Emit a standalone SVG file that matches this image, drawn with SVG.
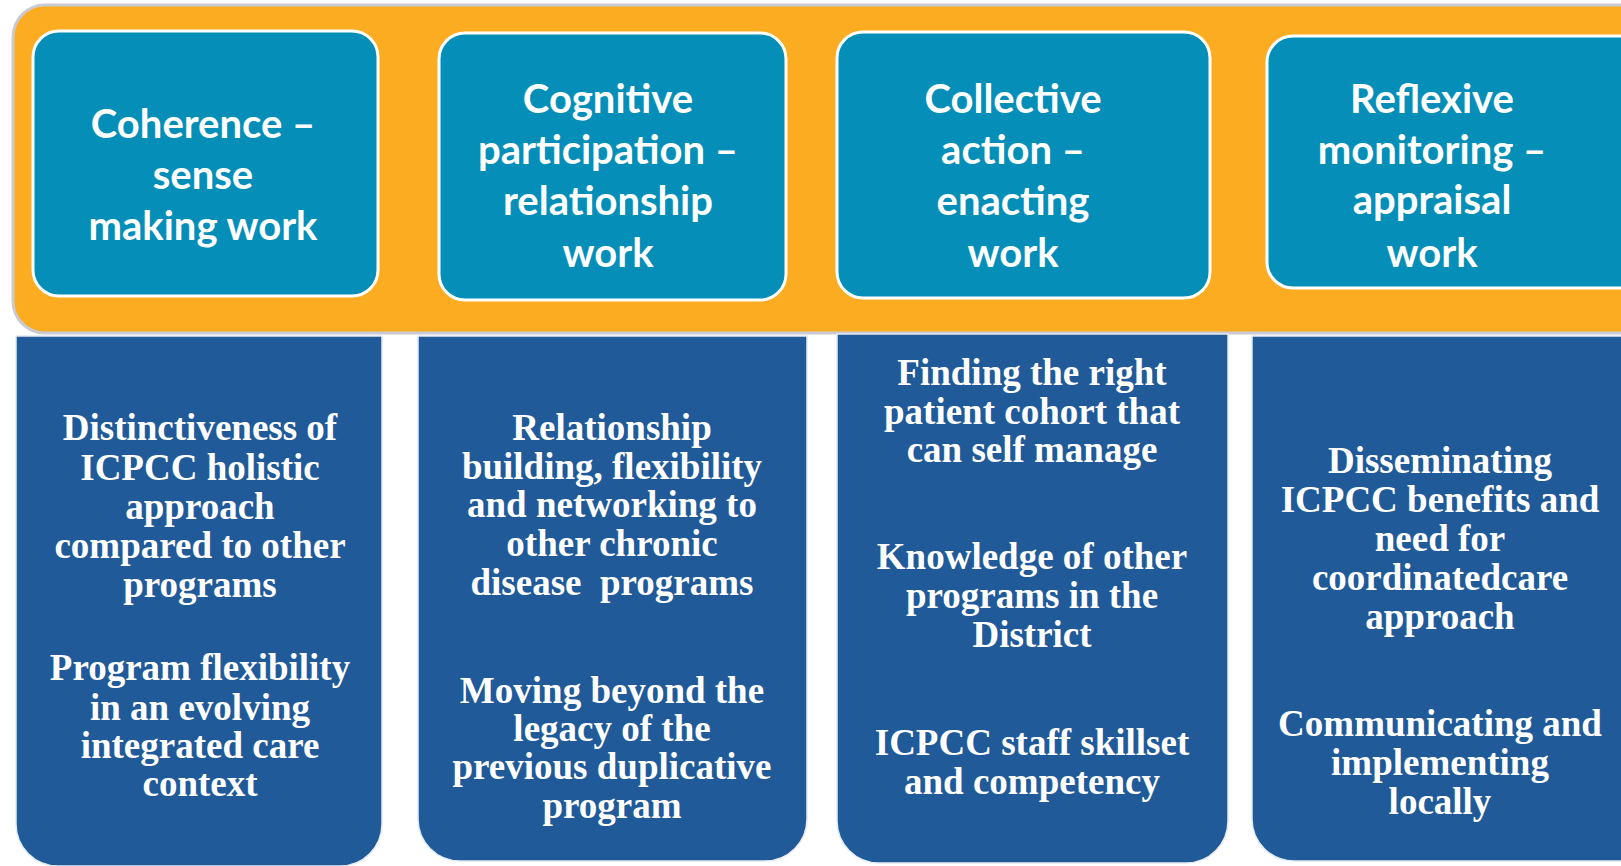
<svg xmlns="http://www.w3.org/2000/svg" width="1621" height="866" viewBox="0 0 1621 866">
<style>
.band{fill:#FCAC20;stroke:#CACAD4;stroke-width:3}
.top{fill:#058FB8;stroke:#FFFFFF;stroke-width:3}
.bot{fill:#205A99;stroke:#E4EAF2;stroke-width:1.5}
.tt{font-family:Lato,"Open Sans",sans-serif;font-weight:bold;font-size:40px;fill:#FFFFFF;text-anchor:middle}
.bt{font-family:"Liberation Serif","Times New Roman",serif;font-weight:bold;font-size:37px;fill:#FFFFFF;text-anchor:middle}
</style>
<rect width="1621" height="866" fill="#FFFFFF"/>
<rect class="band" x="13" y="5" width="1640" height="328" rx="32" ry="32"/>
<g id="n1">
<rect class="top" x="33" y="31" width="345" height="265" rx="26" ry="26"/>
<text class="tt" x="203" y="138">Coherence –</text>
<text class="tt" x="203" y="189">sense</text>
<text class="tt" x="203" y="240">making work</text>
</g>
<g id="n2">
<rect class="top" x="439" y="33" width="347" height="267" rx="26" ry="26"/>
<text class="tt" x="608" y="113">Cognitive</text>
<text class="tt" x="608" y="164">participation –</text>
<text class="tt" x="608" y="215">relationship</text>
<text class="tt" x="608" y="267">work</text>
</g>
<g id="n3">
<rect class="top" x="837" y="32" width="373" height="266" rx="26" ry="26"/>
<text class="tt" x="1013" y="113">Collective</text>
<text class="tt" x="1013" y="164">action –</text>
<text class="tt" x="1013" y="215">enacting</text>
<text class="tt" x="1013" y="267">work</text>
</g>
<g id="n4">
<rect class="top" x="1267" y="36" width="380" height="252" rx="26" ry="26"/>
<text class="tt" x="1432" y="113">Reflexive</text>
<text class="tt" x="1432" y="164">monitoring –</text>
<text class="tt" x="1432" y="214">appraisal</text>
<text class="tt" x="1432" y="267">work</text>
</g>
<g id="b1">
<path class="bot" d="M16,336 H382 V824 A42,42 0 0 1 340,866 H58 A42,42 0 0 1 16,824 Z"/>
<text class="bt" x="200" y="440">Distinctiveness of</text>
<text class="bt" x="200" y="480">ICPCC holistic</text>
<text class="bt" x="200" y="519">approach</text>
<text class="bt" x="200" y="558">compared to other</text>
<text class="bt" x="200" y="597">programs</text>
<text class="bt" x="200" y="680">Program flexibility</text>
<text class="bt" x="200" y="720">in an evolving</text>
<text class="bt" x="200" y="758">integrated care</text>
<text class="bt" x="200" y="796">context</text>
</g>
<g id="b2">
<path class="bot" d="M418,336 H807 V819 A42,42 0 0 1 765,861 H460 A42,42 0 0 1 418,819 Z"/>
<text class="bt" x="612" y="440">Relationship</text>
<text class="bt" x="612" y="479">building, flexibility</text>
<text class="bt" x="612" y="517">and networking to</text>
<text class="bt" x="612" y="556">other chronic</text>
<text class="bt" x="612" y="595" xml:space="preserve">disease  programs</text>
<text class="bt" x="612" y="703">Moving beyond the</text>
<text class="bt" x="612" y="741">legacy of the</text>
<text class="bt" x="612" y="779">previous duplicative</text>
<text class="bt" x="612" y="818">program</text>
</g>
<g id="b3">
<path class="bot" d="M837,334 H1228 V821 A42,42 0 0 1 1186,863 H879 A42,42 0 0 1 837,821 Z"/>
<text class="bt" x="1032" y="385">Finding the right</text>
<text class="bt" x="1032" y="424">patient cohort that</text>
<text class="bt" x="1032" y="462">can self manage</text>
<text class="bt" x="1032" y="569">Knowledge of other</text>
<text class="bt" x="1032" y="608">programs in the</text>
<text class="bt" x="1032" y="647">District</text>
<text class="bt" x="1032" y="755">ICPCC staff skillset</text>
<text class="bt" x="1032" y="794">and competency</text>
</g>
<g id="b4">
<path class="bot" d="M1252,336 H1630 V861 H1294 A42,42 0 0 1 1252,819 Z"/>
<text class="bt" x="1440" y="473">Disseminating</text>
<text class="bt" x="1440" y="512">ICPCC benefits and</text>
<text class="bt" x="1440" y="551">need for</text>
<text class="bt" x="1440" y="590">coordinatedcare</text>
<text class="bt" x="1440" y="629">approach</text>
<text class="bt" x="1440" y="736">Communicating and</text>
<text class="bt" x="1440" y="775">implementing</text>
<text class="bt" x="1440" y="814">locally</text>
</g>
<g id="connectors"></g>
</svg>
